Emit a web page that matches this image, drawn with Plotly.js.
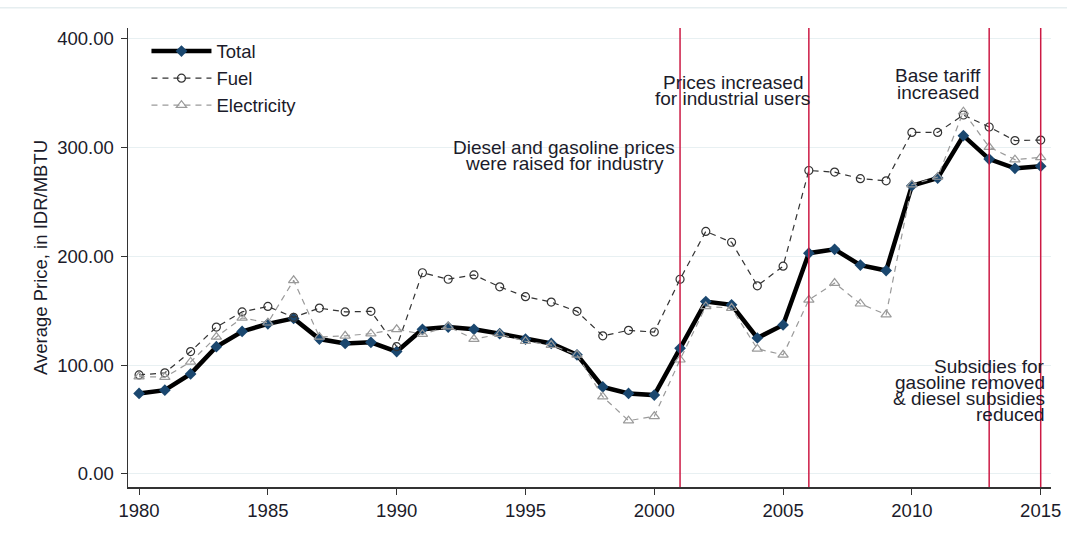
<!DOCTYPE html>
<html>
<head>
<meta charset="utf-8">
<script src="https://cdn.plot.ly/plotly-3.0.1.min.js"></script>
<style>
  body { margin: 0; background: #fff; }
  #chart { width: 1067px; height: 534px; }
</style>
</head>
<body>
<div id="chart"></div>
<script>
const years = [1980, 1981, 1982, 1983, 1984, 1985, 1986, 1987, 1988, 1989,
               1990, 1991, 1992, 1993, 1994, 1995, 1996, 1997, 1998, 1999,
               2000, 2001, 2002, 2003, 2004, 2005, 2006, 2007, 2008, 2009,
               2010, 2011, 2012, 2013, 2014, 2015];

const total = [74, 77, 92, 117, 131, 138, 143, 124, 120, 121,
               112.5, 133, 135, 133, 129, 124, 120, 109.5, 80, 74,
               72.5, 115.5, 158.5, 155.5, 125, 137, 203, 206.5, 192, 187,
               265, 272, 311, 289.5, 281, 283];

const fuel = [91, 93, 112.5, 135, 149, 154, 144, 152.5, 149, 149.5,
              117, 185, 179, 183, 172, 163, 158, 149.5, 127, 132,
              130.5, 179, 223, 213, 173, 191, 279, 277.5, 271.5, 269.5,
              314, 314, 330, 319, 306.5, 307];

const electricity = [89.5, 89, 103, 126, 143.5, 139, 178, 126, 127, 129,
                     133, 128.5, 135.5, 124, 128.5, 122, 118.5, 109.5, 71, 49,
                     53, 105, 154, 152.5, 115, 109.5, 160, 175.5, 156.5, 146.5,
                     266, 273, 333, 300.5, 289, 291];

// policy change years, drawn as red vertical lines
const policyYears = [2001, 2006, 2013, 2015];

// each note: anchor year, value of the first line, lines of text
const notes = [
  {x: 1996.5, y: 300, lines: ['Diesel and gasoline prices', 'were raised for industry'], xanchor: 'center'},
  {x: 2003.05, y: 360, lines: ['Prices increased', 'for industrial users'], xanchor: 'center'},
  {x: 2011.0, y: 366, lines: ['Base tariff', 'increased'], xanchor: 'center'},
  {x: 2015.25, y: 99, lines: ['Subsidies for', 'gasoline removed', '&amp; diesel subsidies', 'reduced'], xanchor: 'right'}
];
const LINE_STEP = 14.9; // value units between stacked text lines

const FONT = 'Liberation Sans, Arial, sans-serif';
const TEXT_COLOR = '#1b1b2a';

let traces = [
  {
    x: years, y: total, name: 'Total',
    mode: 'lines+markers', type: 'scatter',
    line: {color: '#000000', width: 4.5},
    marker: {symbol: 'diamond', color: '#1a476f', size: 9}
  },
  {
    x: years, y: fuel, name: 'Fuel',
    mode: 'lines+markers', type: 'scatter',
    line: {color: '#333333', width: 1.2, dash: '6px,5px'},
    marker: {symbol: 'circle-open', color: '#333333', size: 8, line: {width: 1.2}}
  },
  {
    x: years, y: electricity, name: 'Electricity',
    mode: 'lines+markers', type: 'scatter',
    line: {color: '#9a9a9a', width: 1.2, dash: '6px,5px'},
    marker: {symbol: 'triangle-up-open', color: '#9a9a9a', size: 9, line: {width: 1.2}}
  }
];

let shapes = policyYears.map(yr => ({
  type: 'line', xref: 'x', yref: 'paper',
  x0: yr, x1: yr, y0: 0, y1: 1,
  line: {color: '#cc1a44', width: 1.5}
}));
// faint frame line along the top of the graph region
shapes.push({
  type: 'line', xref: 'paper', yref: 'paper',
  x0: -0.14, x1: 1.02, y0: 1.044, y1: 1.044,
  line: {color: '#e6eef0', width: 1.5}
});

let annotations = [];
notes.forEach(n => {
  n.lines.forEach((txt, i) => {
    annotations.push({
      x: n.x, y: n.y - i * LINE_STEP, xref: 'x', yref: 'y',
      text: txt, showarrow: false,
      xanchor: n.xanchor, yanchor: 'middle',
      font: {family: FONT, size: 19, color: TEXT_COLOR}
    });
  });
});

let layout = {
  width: 1067, height: 534,
  margin: {l: 128, r: 16, t: 28, b: 47},
  paper_bgcolor: '#ffffff',
  plot_bgcolor: '#ffffff',
  font: {family: FONT, size: 18, color: TEXT_COLOR},
  showlegend: true,
  legend: {
    x: 0.02, y: 0.99, xanchor: 'left', yanchor: 'top',
    bgcolor: 'rgba(0,0,0,0)',
    font: {family: FONT, size: 18.5, color: TEXT_COLOR},
    tracegroupgap: 0, itemwidth: 60
  },
  xaxis: {
    range: [1979.57, 2015.4],
    tickvals: [1980, 1985, 1990, 1995, 2000, 2005, 2010, 2015],
    ticks: 'outside', ticklen: 6, tickcolor: '#333',
    showline: true, linecolor: '#333', linewidth: 1.5,
    showgrid: false, zeroline: false,
    tickfont: {family: FONT, size: 18.5, color: TEXT_COLOR}
  },
  yaxis: {
    range: [-12, 410],
    tickvals: [0, 100, 200, 300, 400],
    tickformat: '.2f',
    ticks: 'outside', ticklen: 6, tickcolor: '#333',
    ticklabelstandoff: 3,
    showline: true, linecolor: '#333', linewidth: 1.5,
    showgrid: true, gridcolor: '#e8f0f2', gridwidth: 1,
    zeroline: false,
    title: {text: 'Average Price, in IDR/MBTU', standoff: 4,
            font: {family: FONT, size: 18.5, color: TEXT_COLOR}},
    tickfont: {family: FONT, size: 18.5, color: TEXT_COLOR}
  },
  shapes: shapes,
  annotations: annotations
};

Plotly.newPlot('chart', traces, layout, {displayModeBar: false, staticPlot: true});
</script>
</body>
</html>
